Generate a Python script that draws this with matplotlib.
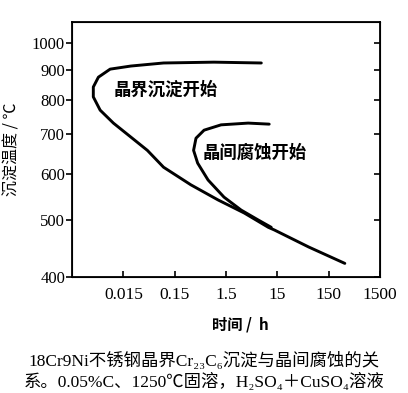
import matplotlib
matplotlib.use("Agg")
import matplotlib.pyplot as plt

plt.rcParams['font.family'] = ['Liberation Serif', 'Noto Sans CJK SC', 'DejaVu Sans']

# 晶界沉淀开始 (时间 h, 温度 ℃)
t_prec = [7.3, 0.87, 0.091, 0.021, 0.0083, 0.0049, 0.0039, 0.0039, 0.0053, 0.0096,
          0.021, 0.044, 0.091, 0.31, 1.05, 3.4, 10.0, 13.1, 61, 309]
T_prec = [925, 928, 925, 914, 903, 875, 842, 810, 769, 731,
          692, 657, 615, 574, 541, 514, 486, 481, 450, 422]

# 晶间腐蚀开始
t_corr = [10.4, 4.05, 1.2, 0.56, 0.39, 0.35, 0.42, 0.67, 1.37, 2.95, 6.4, 11.4]
T_corr = [728, 731, 726, 711, 689, 657, 625, 585, 547, 520, 500, 486]

x_ticks = [0.015, 0.15, 1.5, 15, 150, 1500]
x_labels = ['0.015', '0.15', '1.5', '15', '150', '1500']
y_ticks = [400, 500, 600, 700, 800, 900, 1000]

fig = plt.figure(figsize=(4.08, 3.93), dpi=100)
ax = fig.add_axes([0.1765, 0.295, 0.755, 0.649])

ax.plot(t_prec, T_prec, color='black', lw=2.1, solid_capstyle='round')
ax.plot(t_corr, T_corr, color='black', lw=2.1, solid_capstyle='round')

ax.set_xscale('log')
ax.set_yscale('log')
ax.set_xlim(0.0015, 1500)
ax.set_ylim(400, 1086)

ax.set_xticks(x_ticks)
ax.set_xticklabels(x_labels)
ax.set_yticks(y_ticks)
ax.set_yticklabels([str(v) for v in y_ticks])
ax.minorticks_off()

ax.tick_params(axis='x', direction='in', length=4, width=1.2, pad=7, labelsize=12.5)
ax.tick_params(axis='y', direction='out', length=4, width=1.2, pad=1, labelsize=12)
for s in ax.spines.values():
    s.set_linewidth(1.3)

# 右侧刻度（向内）
ax2 = ax.twinx()
ax2.set_yscale('log')
ax2.set_ylim(ax.get_ylim())
ax2.set_yticks(y_ticks)
ax2.set_yticklabels([])
ax2.minorticks_off()
ax2.tick_params(axis='y', direction='in', length=4, width=1.2)

cjk = ['Noto Sans CJK SC', 'DejaVu Sans']
ax.text(0.0095, 832, '晶界沉淀开始', family=cjk, fontsize=12.5, fontweight='bold',
        va='center', ha='left')
ax.text(0.53, 652, '晶间腐蚀开始', family=cjk, fontsize=12.5, fontweight='bold',
        va='center', ha='left')

ax.set_xlabel('时间 /  h', family=cjk, fontsize=11, fontweight='bold')
ax.xaxis.set_label_coords(0.545, -0.155)
ax.set_ylabel('沉淀温度 / ℃', family=cjk, fontsize=11.5, labelpad=8)

fig.text(0.5, 0.082, '18Cr9Ni不锈钢晶界Cr₂₃C₆沉淀与晶间腐蚀的关',
         ha='center', va='center', fontsize=12.5)
fig.text(0.5, 0.027, '系。0.05%C、1250℃固溶，H₂SO₄＋CuSO₄溶液',
         ha='center', va='center', fontsize=12.5)

fig.savefig('out.png', dpi=100)
